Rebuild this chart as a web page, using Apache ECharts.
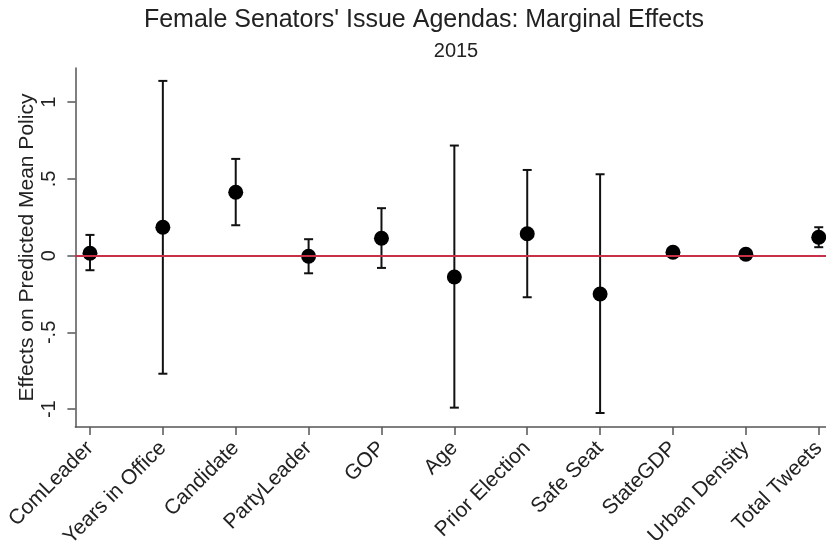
<!DOCTYPE html>
<html>
<head>
<meta charset="utf-8">
<script src="https://cdn.jsdelivr.net/npm/echarts@6/dist/echarts.min.js"></script>
<style>html,body{margin:0;padding:0;background:#fff;}#c{width:826px;height:545px;}</style>
</head>
<body>
<div id="c"></div>
<script>
const categories = ['ComLeader','Years in Office','Candidate','PartyLeader','GOP','Age','Prior Election','Safe Seat','StateGDP','Urban Density','Total Tweets'];
const estimates = [0.016, 0.185, 0.413, -0.004, 0.113, -0.139, 0.143, -0.25, 0.022, 0.009, 0.12];
const upper = [0.135, 1.138, 0.63, 0.107, 0.309, 0.717, 0.558, 0.53, 0.03, 0.014, 0.185];
const lower = [-0.095, -0.769, 0.198, -0.115, -0.08, -0.99, -0.271, -1.025, 0.014, 0.004, 0.055];
const yTicks = [-1, -0.5, 0, 0.5, 1];

const FONT = 'Liberation Sans, Arial, Helvetica, sans-serif';
const pts = estimates.map((v, i) => [i + 1, v]);
const bars = categories.map((c, i) => [i + 1, lower[i], upper[i]]);
const fmtY = v => v === 0 ? '0' : (v < 0 ? '-' : '') + String(Math.abs(v)).replace(/^0/, '');

const chart = echarts.init(document.getElementById('c'), null, {renderer: 'canvas'});
chart.setOption({
  animation: false,
  backgroundColor: '#fff',
  title: [
    {text: "Female Senators' Issue Agendas: Marginal Effects", left: 419, textAlign: 'center', top: 3,
     textStyle: {fontFamily: FONT, fontSize: 25, fontWeight: 'normal', color: '#222'}},
    {text: '2015', left: 451, textAlign: 'center', top: 36,
     textStyle: {fontFamily: FONT, fontSize: 20, fontWeight: 'normal', color: '#222'}}
  ],
  grid: {left: 75.4, right: -7.3, top: 68, bottom: 118, containLabel: false, outerBoundsMode: 'none'},
  xAxis: {
    type: 'value', min: 0.8, max: 11.2,
    splitLine: {show: false},
    axisLine: {show: true, onZero: false, lineStyle: {color: '#555', width: 1.5}},
    axisTick: {show: true, length: 8, customValues: categories.map((c, i) => i + 1), lineStyle: {color: '#555', width: 1.5}},
    axisLabel: {
      customValues: categories.map((c, i) => i + 1),
      formatter: v => categories[Math.round(v) - 1] || '',
      rotate: 45, margin: 18, fontFamily: FONT, fontSize: 21, color: '#222'
    }
  },
  yAxis: {
    type: 'value', min: -1.116, max: 1.222,
    name: 'Effects on Predicted Mean Policy', nameLocation: 'middle', nameRotate: 90, nameGap: 38,
    nameMoveOverlap: false,
    nameTextStyle: {fontFamily: FONT, fontSize: 21, color: '#222'},
    splitLine: {show: false},
    axisLine: {show: true, onZero: false, lineStyle: {color: '#555', width: 1.5}},
    axisTick: {show: true, length: 8, customValues: yTicks, lineStyle: {color: '#555', width: 1.5}},
    axisLabel: {customValues: yTicks, formatter: fmtY, rotate: 90, margin: 16,
      fontFamily: FONT, fontSize: 20, color: '#222'}
  },
  series: [
    {
      type: 'custom',
      data: bars,
      z: 3,
      renderItem: (params, api) => {
        const x = api.value(0);
        const lo = api.coord([x, api.value(1)]);
        const hi = api.coord([x, api.value(2)]);
        const w = 4.5;
        const st = {stroke: '#111', lineWidth: 2};
        return {type: 'group', children: [
          {type: 'line', shape: {x1: lo[0], y1: lo[1], x2: hi[0], y2: hi[1]}, style: st},
          {type: 'line', shape: {x1: lo[0] - w, y1: lo[1], x2: lo[0] + w, y2: lo[1]}, style: st},
          {type: 'line', shape: {x1: hi[0] - w, y1: hi[1], x2: hi[0] + w, y2: hi[1]}, style: st}
        ]};
      }
    },
    {
      type: 'scatter',
      data: pts,
      symbol: 'circle',
      symbolSize: 15,
      z: 4,
      itemStyle: {color: '#000', opacity: 1},
      markLine: {
        silent: true, symbol: 'none', label: {show: false},
        lineStyle: {color: '#c8304a', width: 2, type: 'solid'},
        data: [{yAxis: 0}]
      }
    }
  ]
});
</script>
</body>
</html>
